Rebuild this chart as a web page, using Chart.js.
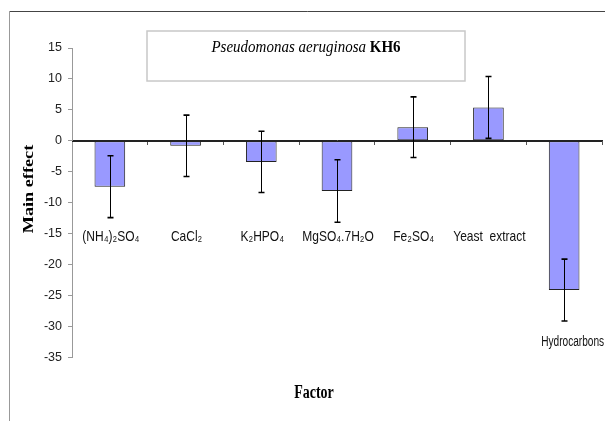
<!DOCTYPE html>
<html><head><meta charset="utf-8">
<script src="https://cdn.jsdelivr.net/npm/chart.js@4.4.0/dist/chart.umd.min.js"></script>
<style>html,body{margin:0;padding:0;background:#fff;overflow:hidden}</style>
</head><body>
<canvas id="c" width="605" height="421"></canvas>
<script>
// ---- data ----
const categories = ['(NH\u2084)\u2082SO\u2084', 'CaCl\u2082', 'K\u2082HPO\u2084', 'MgSO\u2084.7H\u2082O', 'Fe\u2082SO\u2084', 'Yeast  extract', 'Hydrocarbons'];
const mainEffect = [-7.4, -0.8, -3.4, -8.1, 2.2, 5.4, -24.1];
const errorHalf = [5.0, 4.95, 4.95, 5.05, 4.9, 5.0, 5.0];
const yTicks = [15, 10, 5, 0, -5, -10, -15, -20, -25, -30, -35];
const titleItalic = 'Pseudomonas aeruginosa';
const titleBold = 'KH6';
const yTitle = 'Main effect';
const xTitle = 'Factor';

const SANS = "'Liberation Sans', Arial, sans-serif";
const SERIF = "'Liberation Serif', 'Times New Roman', serif";

function stretchedText(ctx, text, x, y, font, align, sy, rot, sx) {
  ctx.save();
  ctx.translate(x, y);
  if (rot) ctx.rotate(rot);
  if (rot) ctx.scale(sy, 1); else ctx.scale(sx || 1, sy);
  ctx.font = font;
  ctx.textAlign = align;
  ctx.textBaseline = 'middle';
  ctx.fillText(text, 0, 0);
  ctx.restore();
}

const decor = {
  id: 'decor',
  beforeDraw(chart) {
    const ctx = chart.ctx;
    ctx.save();
    ctx.fillStyle = '#fff';
    ctx.fillRect(0, 0, chart.width, chart.height);
    ctx.lineWidth = 1;
    ctx.strokeStyle = '#444';
    ctx.beginPath(); ctx.moveTo(9.5, 11.5); ctx.lineTo(chart.width, 11.5); ctx.stroke();
    ctx.strokeStyle = '#999';
    ctx.beginPath(); ctx.moveTo(9.5, 11.5); ctx.lineTo(9.5, chart.height); ctx.stroke();
    ctx.restore();
  },
  afterDatasetsDraw(chart) {
    const ctx = chart.ctx;
    const ys = chart.scales.y, xs = chart.scales.x;
    const meta = chart.getDatasetMeta(0);
    ctx.save();
    const y0 = Math.round(ys.getPixelForValue(0)) + 0.5;
    ctx.strokeStyle = '#222';
    ctx.lineWidth = 1;
    ctx.beginPath(); ctx.moveTo(chart.chartArea.left, y0); ctx.lineTo(chart.chartArea.right, y0); ctx.stroke();
    meta.data.forEach((bar, i) => {
      const x = Math.round(bar.x) + 0.5;
      const yHi = ys.getPixelForValue(mainEffect[i] + errorHalf[i]);
      const yLo = ys.getPixelForValue(mainEffect[i] - errorHalf[i]);
      ctx.strokeStyle = '#000';
      ctx.lineWidth = 1;
      ctx.beginPath(); ctx.moveTo(x, yHi); ctx.lineTo(x, yLo); ctx.stroke();
      ctx.lineWidth = 1.6;
      ctx.beginPath();
      ctx.moveTo(x - 3, yHi); ctx.lineTo(x + 3, yHi);
      ctx.moveTo(x - 3, yLo); ctx.lineTo(x + 3, yLo);
      ctx.stroke();
    });
    ctx.fillStyle = '#111';
    categories.forEach((c, i) => {
      const px = xs.getPixelForValue(i);
      if (i === categories.length - 1) {
        stretchedText(ctx, c, px - 23, ys.getPixelForValue(-32.5), '11.5px ' + SANS, 'left', 1.25, 0, 0.88);
      } else {
        stretchedText(ctx, c, px + 1, ys.getPixelForValue(-15.5), '12px ' + SANS, 'center', 1.25);
      }
    });
    ctx.fillStyle = '#fff';
    ctx.fillRect(147, 31, 318, 50);
    ctx.strokeStyle = '#c8c8c8';
    ctx.lineWidth = 1.5;
    ctx.strokeRect(147, 31, 318, 50);
    ctx.fillStyle = '#000';
    ctx.font = 'italic 15px ' + SERIF;
    const w1 = ctx.measureText(titleItalic + ' ').width;
    ctx.font = 'bold 15px ' + SERIF;
    const w2 = ctx.measureText(titleBold).width;
    const start = 306 - (w1 + w2) / 2;
    stretchedText(ctx, titleItalic + ' ', start, 48, 'italic 15px ' + SERIF, 'left', 1.12);
    stretchedText(ctx, titleBold, start + w1, 48, 'bold 15px ' + SERIF, 'left', 1.12);
    stretchedText(ctx, xTitle, 314, 393, 'bold 14px ' + SERIF, 'center', 1.35);
    stretchedText(ctx, yTitle, 29.5, 189, 'bold 14px ' + SERIF, 'center', 1.3, -Math.PI / 2);
    ctx.restore();
  }
};

new Chart(document.getElementById('c'), {
  type: 'bar',
  data: {
    labels: categories,
    datasets: [{
      data: mainEffect,
      backgroundColor: '#9999ff',
      borderColor: '#222',
      borderWidth: 1,
      borderSkipped: false,
      barPercentage: 0.405,
      categoryPercentage: 1
    }]
  },
  options: {
    responsive: false,
    animation: false,
    devicePixelRatio: 1,
    layout: { padding: { left: 0, top: 48, right: 3, bottom: 63.5 } },
    plugins: { legend: { display: false }, tooltip: { enabled: false }, title: { display: false } },
    scales: {
      x: {
        position: { y: 0 },
        offset: true,
        ticks: { display: false },
        grid: { display: true, drawOnChartArea: false, drawTicks: true, tickLength: 4, color: '#555', offset: true },
        border: { display: true, color: '#222', width: 1 }
      },
      y: {
        min: -35, max: 15,
        afterBuildTicks(scale) { scale.ticks = yTicks.map(v => ({ value: v })); },
        afterFit(scale) { scale.width = 72; },
        ticks: { padding: 6, font: { family: SANS, size: 12.5 }, color: '#222' },
        grid: { drawOnChartArea: false, drawTicks: true, tickLength: 4, color: '#999' },
        border: { display: true, color: '#999', width: 1 }
      }
    }
  },
  plugins: [decor]
});
</script>
</body></html>
